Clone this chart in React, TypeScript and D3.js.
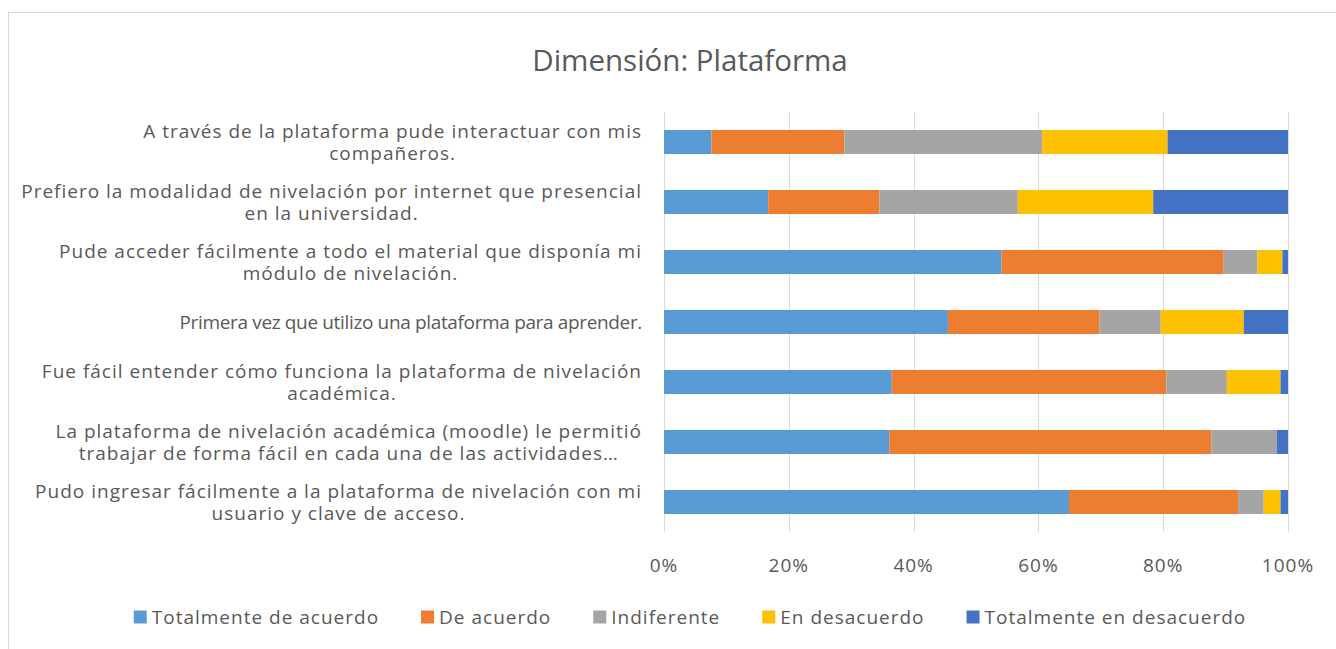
import React, { useEffect, useRef } from 'react';
import * as d3 from 'd3';

const W = 1336;
const H = 649;
const margin = { top: 112, right: 48, bottom: 117, left: 664 };
const FONT = "'Open Sans', 'DejaVu Sans', sans-serif";
const TEXT = '#595959';
const SMALL = 19;
const SPACING = 1;

// categories top to bottom, line breaks as in the original wrapping
const categories = [
  'A través de la plataforma pude interactuar con mis\ncompañeros.',
  'Prefiero la modalidad de nivelación por internet que presencial\nen la universidad.',
  'Pude acceder fácilmente a todo el material que disponía mi\nmódulo de nivelación.',
  'Primera vez que utilizo una plataforma para aprender.',
  'Fue fácil entender cómo funciona la plataforma de nivelación\nacadémica.',
  'La plataforma de nivelación académica (moodle) le permitió\ntrabajar de forma fácil en cada una de las actividades…',
  'Pudo ingresar fácilmente a la plataforma de nivelación con mi\nusuario y clave de acceso.'
];

const seriesNames = ['Totalmente de acuerdo', 'De acuerdo', 'Indiferente', 'En desacuerdo', 'Totalmente en desacuerdo'];
const colors = ['#5B9BD5', '#ED7D31', '#A5A5A5', '#FFC000', '#4472C4'];

// percentages per category (same order as categories)
const totalmenteDeAcuerdo = [7.6, 16.7, 54.1, 45.5, 36.5, 36.1, 64.9];
const deAcuerdo = [21.3, 17.8, 35.6, 24.3, 44.0, 51.6, 27.1];
const indiferente = [31.7, 22.2, 5.4, 9.8, 9.7, 10.5, 4.1];
const enDesacuerdo = [20.1, 21.7, 4.0, 13.3, 8.6, 0, 2.7];
const totalmenteEnDesacuerdo = [19.3, 21.6, 0.9, 7.1, 1.2, 1.8, 1.2];

const tickValues = [0, 0.2, 0.4, 0.6, 0.8, 1];

export default function App() {
  const ref = useRef<SVGSVGElement>(null);

  useEffect(() => {
    document.body.style.margin = '0';
    document.body.style.overflow = 'hidden';
    const svg = d3.select(ref.current);
    svg.selectAll('*').remove();

    const values = [totalmenteDeAcuerdo, deAcuerdo, indiferente, enDesacuerdo, totalmenteEnDesacuerdo];
    const rows = categories.map((c, i) => {
      const r: any = { cat: c };
      seriesNames.forEach((s, j) => { r[s] = values[j][i]; });
      return r;
    });
    const stacked = d3.stack().keys(seriesNames).offset(d3.stackOffsetExpand)(rows);

    const x = d3.scaleLinear().domain([0, 1]).range([margin.left, W - margin.right]);
    const y = d3.scaleBand().domain(categories).range([margin.top, H - margin.bottom])
      .paddingInner(0.6).paddingOuter(0.3);

    // chart border
    svg.append('rect')
      .attr('x', 8.5).attr('y', 12.5).attr('width', 1400).attr('height', 700)
      .attr('fill', '#fff').attr('stroke', '#d9d9d9').attr('stroke-width', 1);

    // title
    svg.append('text')
      .attr('x', 690).attr('y', 71)
      .attr('text-anchor', 'middle')
      .attr('font-family', FONT).attr('font-size', 29.5).attr('fill', TEXT)
      .text('Dimensión: Plataforma');

    // gridlines
    svg.append('g').selectAll('line').data(tickValues).enter().append('line')
      .attr('x1', d => Math.round(x(d)) + 0.5).attr('x2', d => Math.round(x(d)) + 0.5)
      .attr('y1', margin.top).attr('y2', H - margin.bottom)
      .attr('stroke', '#d9d9d9').attr('stroke-width', 1);

    // bars
    svg.append('g').selectAll('g').data(stacked).enter().append('g')
      .attr('fill', (d, i) => colors[i])
      .selectAll('rect').data(d => d).enter().append('rect')
      .attr('x', d => x(d[0]))
      .attr('y', (d: any) => y(d.data.cat) as number)
      .attr('width', d => x(d[1]) - x(d[0]))
      .attr('height', y.bandwidth());

    // tick labels
    const fmt = d3.format('.0%');
    svg.append('g').selectAll('text').data(tickValues).enter().append('text')
      .attr('x', d => x(d)).attr('y', 572)
      .attr('text-anchor', 'middle')
      .attr('font-family', FONT).attr('font-size', SMALL).attr('letter-spacing', SPACING).attr('fill', TEXT)
      .text(d => fmt(d));

    // category labels: centered text blocks, right edge near the plot
    const labelRight = 642;
    const lineH = 22;
    categories.forEach(c => {
      const lines = c.split('\n');
      const wrapped = lines.length > 1;
      const cy = (y(c) as number) + y.bandwidth() / 2;
      const t = svg.append('text')
        .attr('text-anchor', 'middle')
        .attr('font-family', FONT)
        .attr('font-size', SMALL)
        .attr('letter-spacing', wrapped ? SPACING : -0.35)
        .attr('fill', TEXT);
      lines.forEach((ln, i) => {
        t.append('tspan')
          .attr('x', 0)
          .attr('y', cy + (i - (lines.length - 1) / 2) * lineH)
          .attr('dy', '0.35em')
          .text(ln);
      });
      const bw = (t.node() as SVGTextElement).getBBox().width;
      t.selectAll('tspan').attr('x', labelRight - bw / 2);
    });

    // legend
    const legY = 617;
    const sq = 13;
    const gapSq = 5;
    const gapItem = 42;
    const leg = svg.append('g');
    const items = seriesNames.map((s, i) => {
      const g = leg.append('g');
      g.append('rect').attr('width', sq).attr('height', sq).attr('y', legY - sq / 2).attr('fill', colors[i]);
      const t = g.append('text')
        .attr('x', sq + gapSq).attr('y', legY).attr('dy', '0.35em')
        .attr('font-family', FONT).attr('font-size', SMALL).attr('letter-spacing', SPACING).attr('fill', TEXT)
        .text(s);
      const w = sq + gapSq + (t.node() as SVGTextElement).getComputedTextLength();
      return { g, w };
    });
    const total = d3.sum(items, d => d.w) + gapItem * (items.length - 1);
    let cx = 690 - total / 2;
    items.forEach(it => {
      it.g.attr('transform', `translate(${cx},0)`);
      cx += it.w + gapItem;
    });
  }, []);

  return (
    <div style={{ position: 'absolute', left: 0, top: 0 }}>
      <svg ref={ref} width={W} height={H} style={{ display: 'block' }} />
    </div>
  );
}
